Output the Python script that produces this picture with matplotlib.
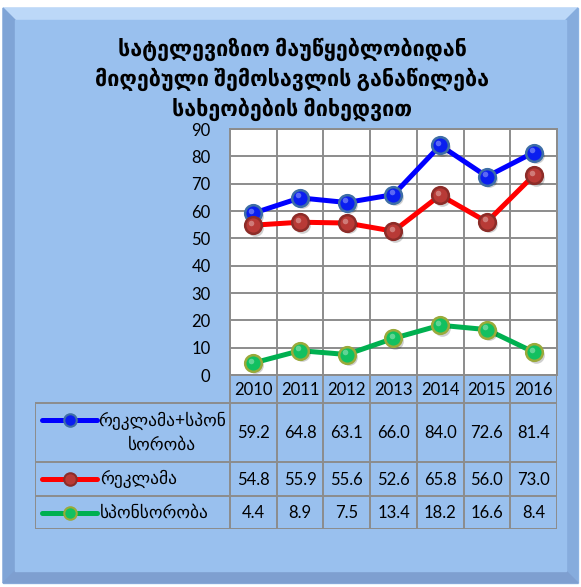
import matplotlib.pyplot as plt
from matplotlib.patches import Polygon, Rectangle
import numpy as np

# --------------------------------------------
# DATA
# --------------------------------------------
years = ["2010", "2011", "2012", "2013", "2014", "2015", "2016"]
series_names = ["რეკლამა+სპონ\nსორობა", "რეკლამა", "სპონსორობა"]
adv_spon = [59.2, 64.8, 63.1, 66.0, 84.0, 72.6, 81.4]
adv = [54.8, 55.9, 55.6, 52.6, 65.8, 56.0, 73.0]
spon = [4.4, 8.9, 7.5, 13.4, 18.2, 16.6, 8.4]
title = "სატელევიზიო მაუწყებლობიდან\nმიღებული შემოსავლის განაწილება\nსახეობების მიხედვით"

series = [adv_spon, adv, spon]
line_colors = ["#0000FF", "#FF0000", "#00B050"]
face_colors = ["#0A1EF0", "#B83A36", "#12C060"]
edge_colors = ["#3E6EA6", "#8C2C28", "#9AAA3A"]

plt.rcParams['font.family'] = ['Lato', 'DejaVu Sans']

W, H = 581, 587
fig = plt.figure(figsize=(W / 100, H / 100), dpi=100)


def fx(px):
    return px / W


def fy(py):
    return 1 - py / H


# --------------------------------------------
# BEVELLED BACKGROUND
# --------------------------------------------
bg = fig.add_axes([0, 0, 1, 1])
bg.set_xlim(0, W)
bg.set_ylim(H, 0)
bg.axis("off")
x0, y0, x1, y1 = 3, 8, 578, 583
b = 12
bg.add_patch(Rectangle((x0, y0), x1 - x0, y1 - y0, color="#99C0EE"))
bg.add_patch(Polygon([(x0, y0), (x1, y0), (x1 - b, y0 + b), (x0 + b, y0 + b)], color="#BCD8F8"))
bg.add_patch(Polygon([(x0, y0), (x0 + b, y0 + b), (x0 + b, y1 - b), (x0, y1)], color="#7FA4D6"))
bg.add_patch(Polygon([(x1, y0), (x1, y1), (x1 - b, y1 - b), (x1 - b, y0 + b)], color="#86ACDD"))
bg.add_patch(Polygon([(x0, y1), (x0 + b, y1 - b), (x1 - b, y1 - b), (x1, y1)], color="#7E9FD0"))
bg.add_patch(Rectangle((x0 + b, y0 + b), x1 - x0 - 2 * b, y1 - y0 - 2 * b, color="#99C0EE"))

bg.text(292, 79, title, ha="center", va="center", fontsize=15.5, fontweight="bold",
        linespacing=1.35, color="black")

# --------------------------------------------
# LINE CHART
# --------------------------------------------
pl, pr, pt, pb = 230, 557, 129, 375
ax = fig.add_axes([fx(pl), fy(pb), fx(pr - pl), (pb - pt) / H])
ax.set_facecolor("white")
x = np.arange(len(years))
for vals, lc, fc, ec in zip(series, line_colors, face_colors, edge_colors):
    ax.plot(x, vals, color=lc, lw=3.6, solid_capstyle="round", zorder=3)
    ax.plot(x + 0.04, np.array(vals) - 0.9, "o", ms=12, color="#00000030", mec="none", zorder=3)
    ax.plot(x, vals, "o", ms=12, mfc=fc, mec=ec, mew=1.8, zorder=4)
    ax.plot(x - 0.04, np.array(vals) + 0.9, "o", ms=4, mfc="#FFFFFF55", mec="none", zorder=5)

ax.set_xlim(-0.5, len(years) - 0.5)
ax.set_ylim(0, 90)
ax.set_yticks(np.arange(0, 91, 10))
ax.set_xticks(np.arange(len(years) + 1) - 0.5)
ax.set_xticklabels([])
ax.grid(True, color="#8C8C8C", lw=1.4)
ax.set_axisbelow(True)
ax.tick_params(axis="both", length=0, labelsize=12, pad=14)
for s in ax.spines.values():
    s.set_color("#8C8C8C")
    s.set_linewidth(1.4)

# --------------------------------------------
# DATA TABLE
# --------------------------------------------
tl, tr = 35, 557
row_edges = [375, 403, 462, 496, 529]
cat_w = (pr - pl) / len(years)
tab = fig.add_axes([fx(tl), fy(row_edges[-1]), fx(tr - tl), (row_edges[-1] - row_edges[0]) / H])
tab.axis("off")
left_x = -0.5 - (pl - tl) / cat_w
tab.set_xlim(left_x, len(years) - 0.5)
tab.set_ylim(row_edges[-1], row_edges[0])
gc = "#8C8C8C"
lw = 1.4
for i in range(len(years) + 1):
    tab.plot([i - 0.5, i - 0.5], [row_edges[0], row_edges[-1]], color=gc, lw=lw)
tab.plot([left_x, left_x], [row_edges[1], row_edges[-1]], color=gc, lw=lw)
tab.plot([-0.5, len(years) - 0.5], [row_edges[0], row_edges[0]], color=gc, lw=lw)
for yy in row_edges[1:]:
    tab.plot([left_x, len(years) - 0.5], [yy, yy], color=gc, lw=lw)

for i, yr in enumerate(years):
    tab.text(i, (row_edges[0] + row_edges[1]) / 2 + 1, yr, ha="center", va="center", fontsize=12)

leg_x0 = left_x + 7 / cat_w
leg_x1 = left_x + 62 / cat_w
for r, (name, vals, lc, fc, ec) in enumerate(zip(series_names, series, line_colors, face_colors, edge_colors)):
    ymid = (row_edges[r + 1] + row_edges[r + 2]) / 2
    for i, v in enumerate(vals):
        tab.text(i, ymid + 1, f"{v:.1f}", ha="center", va="center", fontsize=12)
    ly = row_edges[r + 1] + 17 if r == 0 else ymid
    tab.plot([leg_x0, leg_x1], [ly, ly], color=lc, lw=3.6, solid_capstyle="round")
    tab.plot([(leg_x0 + leg_x1) / 2], [ly], "o", ms=9, mfc=fc, mec=ec, mew=1.5)
    if r == 0:
        tab.text(left_x + 127 / cat_w, ymid, name, ha="center", va="center", fontsize=12.5,
                 linespacing=1.5)
    else:
        tab.text(leg_x1 + 3 / cat_w, ymid, name, ha="left", va="center", fontsize=12.5)

plt.savefig("out.png", dpi=100)
plt.close()
